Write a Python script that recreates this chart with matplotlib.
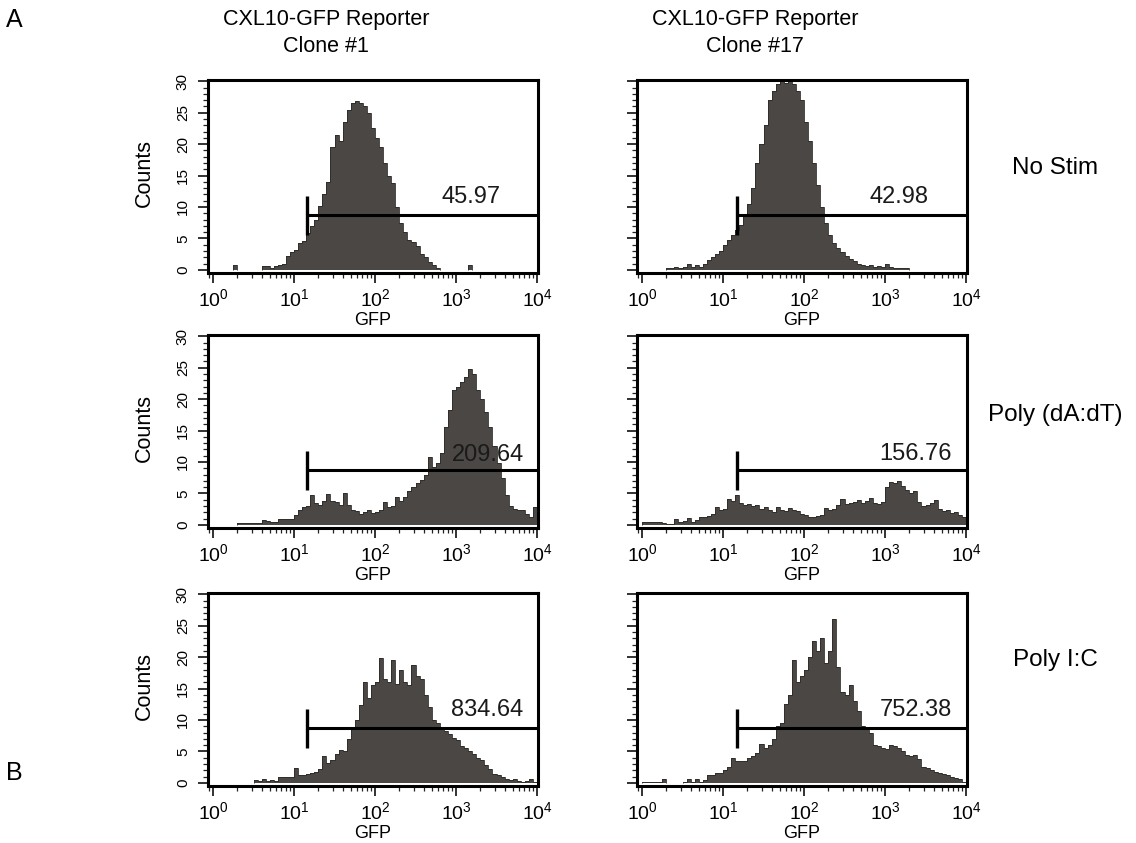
"""CXL10-GFP reporter flow histograms (two clones, three stimulations)."""

import matplotlib

matplotlib.use("Agg")
import matplotlib.pyplot as plt
import numpy as np
from matplotlib.ticker import LogLocator, MultipleLocator, NullFormatter

OUTPUT = "out.png"
W_PX, H_PX = 1136, 843

# GFP histograms: counts per bin, 80 equal log bins spanning 10^0 .. 10^4
N_BINS = 80
CLONE1_NO_STIM = [
    0, 0, 0, 0, 0, 0.7, 0, 0, 0, 0,
    0, 0, 0.6, 0.6, 0.3, 0.6, 0.8, 1.0, 2.2, 2.8,
    3.2, 4.3, 4.6, 5.8, 7.0, 8.0, 10.2, 12.0, 14.0, 19.5,
    21.5, 20.5, 23.5, 25.5, 26.5, 26.8, 26.6, 26.0, 25.0, 22.5,
    21.0, 19.5, 17.0, 15.0, 13.8, 10.0, 7.5, 6.0, 4.8, 4.5,
    3.8, 2.5, 2.0, 1.2, 0.8, 0.3, 0, 0, 0, 0,
    0, 0, 0, 0.7, 0, 0, 0, 0, 0, 0,
    0, 0, 0, 0, 0, 0, 0, 0, 0, 0,
]
CLONE17_NO_STIM = [
    0, 0, 0, 0, 0, 0, 0.3, 0.3, 0.4, 0.3,
    0.4, 0.9, 0.4, 0.7, 0.5, 1.0, 1.6, 2.0, 2.6, 3.0,
    4.0, 4.8, 5.6, 6.4, 7.2, 8.5, 10.5, 13.0, 17.0, 20.0,
    23.0, 27.0, 28.5, 29.5, 30.0, 29.8, 30.0, 29.5, 28.5, 27.0,
    23.5, 20.5, 17.0, 13.5, 10.0, 7.5, 5.5, 4.2, 3.5, 2.8,
    2.2, 1.8, 1.4, 1.0, 0.8, 0.6, 0.7, 0.5, 0.6, 0.4,
    1.0, 0.4, 0.3, 0.3, 0.3, 0.3, 0, 0, 0, 0,
    0, 0, 0, 0, 0, 0, 0, 0, 0, 0,
]
CLONE1_POLY_DADT = [
    0, 0, 0, 0, 0, 0, 0.3, 0.3, 0.3, 0.3,
    0.3, 0.3, 0.8, 0.6, 0.4, 0.4, 1.0, 1.0, 1.0, 1.0,
    1.5, 2.3, 2.8, 3.0, 4.8, 3.4, 3.2, 3.8, 4.9, 3.8,
    3.6, 3.2, 5.0, 3.2, 2.4, 2.2, 1.8, 2.0, 2.3, 1.9,
    2.0, 2.4, 3.6, 2.8, 3.0, 4.4, 3.8, 4.5, 5.4, 6.0,
    6.6, 7.2, 8.0, 10.8, 9.2, 9.8, 11.5, 15.5, 18.2, 21.5,
    22.0, 22.8, 23.5, 24.8, 24.0, 21.5, 20.0, 18.0, 15.5, 12.5,
    9.8, 7.5, 4.8, 3.0, 2.6, 2.3, 2.4, 1.8, 1.2, 2.8,
]
CLONE17_POLY_DADT = [
    0.5, 0.5, 0.5, 0.5, 0.5, 0.3, 0.2, 0.2, 1.0, 0.4,
    0.6, 1.1, 0.5, 0.8, 1.3, 1.3, 1.4, 1.8, 2.9, 2.4,
    2.6, 4.1, 3.8, 4.8, 3.5, 3.2, 3.3, 3.0, 3.1, 2.6,
    2.8, 2.4, 2.0, 2.9, 2.4, 2.2, 2.7, 2.3, 2.2, 1.8,
    1.5, 1.2, 1.3, 1.4, 1.6, 2.7, 2.4, 2.6, 3.2, 4.1,
    3.3, 3.5, 3.6, 3.9, 3.4, 3.8, 4.3, 3.5, 3.3, 3.6,
    6.0, 6.8, 6.6, 6.9, 6.2, 5.6, 5.0, 5.4, 3.6, 3.0,
    3.2, 3.5, 4.0, 2.6, 2.2, 2.3, 1.9, 2.1, 1.6, 1.2,
]
CLONE1_POLY_IC = [
    0, 0, 0, 0, 0, 0, 0, 0, 0, 0,
    0.5, 0.3, 0.6, 0.3, 0.5, 0.3, 0.9, 1.0, 1.0, 1.0,
    2.3, 1.3, 1.2, 1.4, 1.5, 1.8, 2.2, 4.2, 3.2, 3.6,
    4.6, 5.2, 5.0, 6.9, 8.5, 10.0, 12.4, 16.0, 13.5, 15.5,
    16.0, 19.8, 16.5, 16.0, 19.5, 15.7, 18.0, 16.0, 15.5, 18.8,
    17.0, 16.5, 14.0, 12.0, 10.0, 9.5, 8.6, 8.2, 7.8, 7.2,
    6.8, 5.8, 5.6, 5.0, 4.6, 3.9, 3.6, 2.8, 2.2, 1.4,
    1.2, 0.9, 0.6, 0.5, 0.6, 0.3, 0.2, 0.3, 0.6, 0.2,
]
CLONE17_POLY_IC = [
    0.2, 0.2, 0.2, 0.2, 0.1, 0.6, 0, 0, 0, 0,
    0.2, 0.6, 0.2, 0.6, 0.2, 0.4, 1.2, 1.3, 1.6, 1.5,
    2.0, 2.6, 4.0, 3.5, 3.4, 3.5, 3.9, 4.3, 4.8, 6.2,
    5.6, 6.0, 7.0, 9.0, 9.6, 12.5, 14.0, 19.5, 16.0, 17.0,
    18.0, 20.0, 22.5, 21.0, 23.0, 19.0, 21.0, 26.0, 18.5, 14.5,
    14.0, 15.5, 13.0, 11.5, 9.0, 8.8, 8.0, 6.0, 5.8, 5.6,
    5.4, 6.0, 5.8, 5.5, 5.0, 4.5, 4.2, 4.4, 3.8, 2.6,
    2.3, 2.0, 1.7, 1.5, 1.4, 1.2, 1.0, 0.8, 0.6, 0.2,
]

CLONE_TITLES = ["CXL10-GFP Reporter\nClone #1", "CXL10-GFP Reporter\nClone #17"]
STIM_LABELS = ["No Stim", "Poly (dA:dT)", "Poly I:C"]
GATE_VALUES = [["45.97", "42.98"], ["209.64", "156.76"], ["834.64", "752.38"]]
GATE_START = [14.5, 14.8]  # GFP where the marker begins, per clone
GATE_LEVEL = 8.8

# layout (pixels in the 1136x843 canvas)
COL_LEFT = [208, 637]
ROW_TOP = [80, 335, 593]
BOX_W, BOX_H = 330, 193
LABEL_POS = [[(3.19, 11.6), (3.17, 11.6)], [(3.39, 11.1), (3.38, 11.3)], [(3.39, 11.6), (3.38, 11.6)]]
FILL = "#4b4744"


def box(left, top):
    return [left / W_PX, 1 - (top + BOX_H) / H_PX, BOX_W / W_PX, BOX_H / H_PX]


def style_axis(ax, show_ylabels):
    ax.set_xscale("log")
    ax.set_xlim(10 ** -0.062, 10 ** 4.012)
    ax.set_ylim(-0.5, 30.2)
    ax.xaxis.set_major_locator(LogLocator(base=10, numticks=6))
    ax.xaxis.set_minor_locator(LogLocator(base=10, subs=np.arange(2, 10), numticks=12))
    ax.xaxis.set_minor_formatter(NullFormatter())
    ax.yaxis.set_major_locator(MultipleLocator(5))
    ax.yaxis.set_minor_locator(MultipleLocator(1))
    for side in ax.spines.values():
        side.set_linewidth(2.2)
        side.set_color("black")
    ax.tick_params(which="major", direction="out", length=7, width=1.3, color="#222222")
    ax.tick_params(which="minor", direction="out", length=3.5, width=0.9, color="#222222")
    ax.tick_params(axis="x", labelsize=14, pad=4)
    ax.tick_params(axis="y", labelsize=11, pad=6, labelrotation=90)
    for lab in ax.get_yticklabels():
        lab.set_va("center")
    if not show_ylabels:
        ax.tick_params(axis="y", labelleft=False)
    else:
        ax.set_ylabel("Counts", fontsize=15.5)
        ax.yaxis.set_label_coords(-0.16, 0.52)
    ax.set_xlabel("GFP", fontsize=13, labelpad=1)


def main():
    plt.rcParams["font.family"] = ["Liberation Sans", "DejaVu Sans"]
    plt.rcParams["mathtext.fontset"] = "custom"
    plt.rcParams["mathtext.rm"] = "Liberation Sans"
    plt.rcParams["mathtext.it"] = "Liberation Sans:italic"
    plt.rcParams["mathtext.bf"] = "Liberation Sans:bold"

    edges = np.logspace(0, 4, N_BINS + 1)
    data = [
        [CLONE1_NO_STIM, CLONE17_NO_STIM],
        [CLONE1_POLY_DADT, CLONE17_POLY_DADT],
        [CLONE1_POLY_IC, CLONE17_POLY_IC],
    ]

    fig = plt.figure(figsize=(W_PX / 100, H_PX / 100), dpi=100)
    fig.patch.set_facecolor("white")

    for r, top in enumerate(ROW_TOP):
        for c, left in enumerate(COL_LEFT):
            ax = fig.add_axes(box(left, top))
            counts = np.clip(np.asarray(data[r][c], dtype=float), 0, 30.2)
            ax.stairs(counts, edges, fill=True, color=FILL, linewidth=0)
            ax.stairs(np.where(counts > 0, counts, np.nan), edges,
                      color="#2c2a28", linewidth=0.6)
            style_axis(ax, show_ylabels=(c == 0))

            start = GATE_START[c]
            ax.plot([start, 10 ** 4.012], [GATE_LEVEL, GATE_LEVEL],
                    color="black", linewidth=2.2, solid_capstyle="butt")
            ax.plot([start, start], [GATE_LEVEL - 3.2, GATE_LEVEL + 3.0],
                    color="black", linewidth=2.4, solid_capstyle="butt")
            lx, ly = LABEL_POS[r][c]
            ax.text(10 ** lx, ly, GATE_VALUES[r][c], fontsize=17,
                    ha="center", va="center", color="#1a1a1a")

    # column titles and row labels
    for c, title in enumerate(CLONE_TITLES):
        x = (COL_LEFT[c] + BOX_W / 2 - 47) / W_PX
        fig.text(x, 1 - 33 / H_PX, title, ha="center", va="center",
                 fontsize=15.5, linespacing=1.35)
    row_y = [168, 415, 660]
    for label, y in zip(STIM_LABELS, row_y):
        fig.text(1055 / W_PX, 1 - y / H_PX, label, ha="center", va="center", fontsize=17.5)

    fig.text(14 / W_PX, 1 - 20 / H_PX, "A", ha="center", va="center", fontsize=18)
    fig.text(14 / W_PX, 1 - 773 / H_PX, "B", ha="center", va="center", fontsize=18)

    fig.savefig(OUTPUT, dpi=100, facecolor="white")
    plt.close(fig)


if __name__ == "__main__":
    main()
